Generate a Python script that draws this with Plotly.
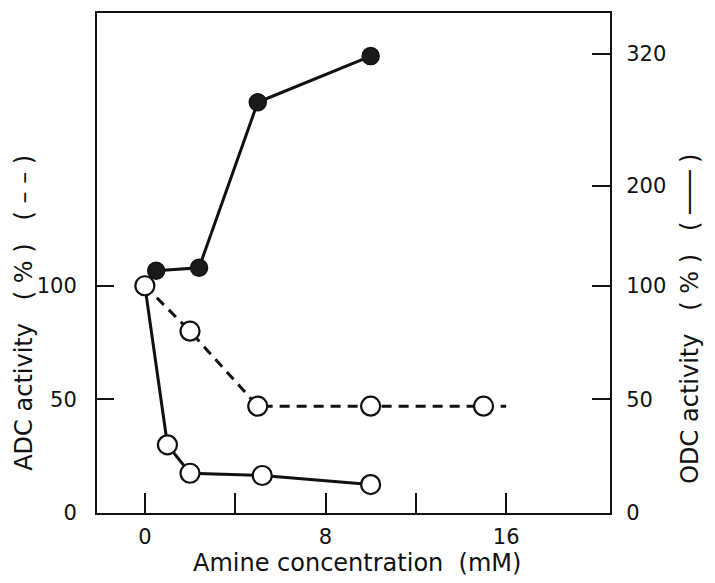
import numpy as np
import plotly.graph_objects as go

# ---- data ----
adc_x = [0, 2, 5, 10, 15]
adc_y = [100, 80, 47, 47, 47]
adc_line_end = 16          # dashed line continues to 16 mM

odc_open_x = [0, 1, 2, 5.2, 10]
odc_open_y = [100, 30, 17.5, 16.5, 12.5]

odc_filled_x = [0, 0.5, 2.4, 5, 10]
odc_filled_y = [100, 115, 118, 276, 318]

x_tickvals = [0, 4, 8, 12, 16]
x_ticktext = ["0", "", "8", "", "16"]
adc_tickvals = [0, 50, 100]
odc_ticklabels = [0, 50, 100, 200, 320]
# the ODC axis of the original is broken: position of each ODC label on the ADC scale
odc_label_pos = [0, 50, 100, 144, 202]


def odc_scale(v):
    return np.interp(v, odc_ticklabels, odc_label_pos)


FONT = "DejaVu Sans"
INK = "#111111"

fig = go.Figure()

fig.add_trace(go.Scatter(
    x=adc_x + [adc_line_end], y=adc_y + [adc_y[-1]], mode="lines",
    line=dict(color=INK, width=3, dash="10px,7px"), hoverinfo="skip", showlegend=False))

fy = odc_scale(odc_filled_y)
fig.add_trace(go.Scatter(
    x=odc_filled_x, y=fy, mode="lines",
    line=dict(color=INK, width=3), showlegend=False))
fig.add_trace(go.Scatter(
    x=odc_filled_x[1:], y=fy[1:], mode="markers",
    marker=dict(symbol="circle", size=17, color="#1a1a1a", line=dict(color=INK, width=1.5)),
    showlegend=False))

oy = odc_scale(odc_open_y)
fig.add_trace(go.Scatter(
    x=odc_open_x, y=oy, mode="lines",
    line=dict(color=INK, width=3), showlegend=False))

fig.add_trace(go.Scatter(
    x=adc_x, y=adc_y, mode="markers",
    marker=dict(symbol="circle", size=19, color="white", line=dict(color=INK, width=2.2)),
    showlegend=False))
fig.add_trace(go.Scatter(
    x=odc_open_x[1:], y=oy[1:], mode="markers",
    marker=dict(symbol="circle", size=19, color="white", line=dict(color=INK, width=2.2)),
    showlegend=False))

fig.add_trace(go.Scatter(x=[None], y=[None], yaxis="y2", showlegend=False))

yr = [0, 220]
# page has an 8px body margin; plot area on the page: x 97..610, y 11..513
fig.update_layout(
    width=707, height=575,
    margin=dict(l=89, r=105, t=3, b=70),
    paper_bgcolor="white", plot_bgcolor="white",
    font=dict(family=FONT, size=21, color=INK),
    xaxis=dict(
        range=[-2.12, 20.6], tickvals=x_tickvals, ticktext=x_ticktext,
        ticks="inside", ticklen=20, tickwidth=2, tickcolor=INK,
        showline=True, linewidth=2, linecolor=INK, mirror=True,
        showgrid=False, zeroline=False, ticklabelstandoff=4),
    yaxis=dict(
        range=yr, tickvals=adc_tickvals, ticktext=[str(v) for v in adc_tickvals],
        ticks="inside", ticklen=17, tickwidth=2, tickcolor=INK,
        showline=True, linewidth=2, linecolor=INK,
        showgrid=False, zeroline=False, ticklabelstandoff=14),
    yaxis2=dict(
        range=yr, overlaying="y", side="right",
        tickvals=odc_label_pos, ticktext=[str(v) for v in odc_ticklabels],
        ticks="inside", ticklen=18, tickwidth=2, tickcolor=INK,
        showline=True, linewidth=2, linecolor=INK,
        showgrid=False, zeroline=False, ticklabelstandoff=10),
)

fig.add_annotation(text="Amine concentration  (mM)", xref="paper", yref="paper",
                   x=(357 - 97) / 513, y=-(563 - 513) / 502, showarrow=False,
                   font=dict(size=24, family=FONT), xanchor="center", yanchor="middle")
fig.add_annotation(text="ADC activity   ( % )   ( – – )", xref="paper", yref="paper",
                   x=-(97 - 24) / 513, y=(513 - 312) / 502, showarrow=False, textangle=-90,
                   font=dict(size=24, family=FONT), xanchor="center", yanchor="middle")
fig.add_annotation(text="ODC activity   ( % )   ( ─── )", xref="paper", yref="paper",
                   x=1 + (690 - 610) / 513, y=(513 - 318) / 502, showarrow=False, textangle=-90,
                   font=dict(size=24, family=FONT), xanchor="center", yanchor="middle")

fig.write_html("out.html")
